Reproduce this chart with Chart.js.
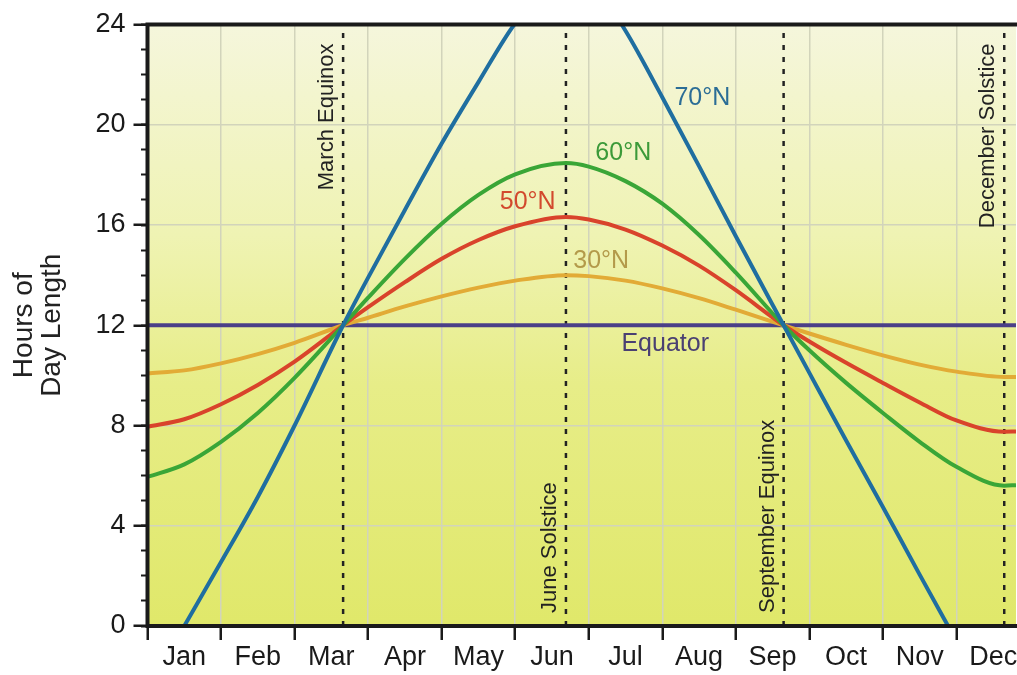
<!DOCTYPE html>
<html>
<head>
<meta charset="utf-8">
<title>Hours of Day Length</title>
<script src="https://cdn.jsdelivr.net/npm/chart.js@4.4.1/dist/chart.umd.min.js"></script>
<style>
	html, body { margin: 0; padding: 0; background: #fff; overflow: hidden; }
	#wrap { width: 1017px; height: 675px; }
</style>
</head>
<body>
<div id="wrap"><canvas id="dayChart" width="1017" height="675"></canvas></div>
<script>
const monthNames = ['Jan', 'Feb', 'Mar', 'Apr', 'May', 'Jun', 'Jul', 'Aug', 'Sep', 'Oct', 'Nov', 'Dec']

// position in the year, months counted from 1 Jan
const monthPos = [0, 0.5, 1, 1.5, 2, 2.66, 3, 3.5, 4, 4.5, 5, 5.69, 6, 6.5, 7, 7.5, 8, 8.65, 9, 9.5, 10, 10.5, 11, 11.65, 11.81]

// hours of daylight
const hoursEquator = [12, 12, 12, 12, 12, 12, 12, 12, 12, 12, 12, 12, 12, 12, 12, 12, 12, 12, 12, 12, 12, 12, 12, 12, 12]
const hours30N = [10.08, 10.2, 10.48, 10.85, 11.3, 12, 12.3, 12.75, 13.15, 13.5, 13.78, 14.0, 13.96, 13.78, 13.47, 13.08, 12.62, 12.0, 11.67, 11.22, 10.8, 10.43, 10.15, 9.94, 9.94]
const hours50N = [7.95, 8.25, 8.85, 9.62, 10.55, 12, 12.72, 13.72, 14.65, 15.4, 15.95, 16.32, 16.22, 15.82, 15.18, 14.38, 13.4, 12.0, 11.35, 10.5, 9.7, 8.92, 8.2, 7.75, 7.76]
const hours60N = [5.95, 6.45, 7.35, 8.5, 9.9, 12, 13.1, 14.65, 16.05, 17.2, 18.02, 18.47, 18.33, 17.75, 16.85, 15.6, 14.1, 12.0, 11.0, 9.7, 8.5, 7.35, 6.35, 5.6, 5.62]
const hours70N = [null, 0.0, 2.55, 5.15, 8.0, 12, 13.9, 16.6, 19.25, 21.7, 24.05, 26.2, 25.9, 23.75, 21.1, 18.35, 15.55, 12.0, 10.1, 7.4, 4.75, 2.05, -0.6, null, null]

// equinoxes and solstices
const eventPos = [2.66, 5.69, 8.65, 11.65]
const eventNames = ['March Equinox', 'June Solstice', 'September Equinox', 'December Solstice']
const eventAtTop = [true, false, false, true]

// names written next to the curves (x in months, y in hours)
const curveLabels = [
	{ text: '70°N', x: 7.545, y: 21.05, color: '#2b6d96' },
	{ text: '60°N', x: 6.47, y: 18.85, color: '#3c9a39' },
	{ text: '50°N', x: 5.17, y: 16.93, color: '#d2492d' },
	{ text: '30°N', x: 6.17, y: 14.54, color: '#b39a4a' },
	{ text: 'Equator', x: 7.04, y: 11.26, color: '#4a4072' }
]

const FONT = "'Liberation Sans', Arial, sans-serif"
const gridColor = '#d2d4bb'
const inkColor = '#1a1a1a'
const clear = 'rgba(0,0,0,0)'

const toPoints = arr => monthPos.map((m, i) => ({ x: m, y: arr[i] }))

const curve = (label, arr, color) => ({
	label,
	data: toPoints(arr),
	borderColor: color,
	borderWidth: 4,
	pointRadius: 0,
	cubicInterpolationMode: 'monotone',
	clip: 0
})

const datasets = [
	curve('70°N', hours70N, '#1f6ea0'),
	curve('60°N', hours60N, '#3aa637'),
	curve('50°N', hours50N, '#d9432b'),
	curve('30°N', hours30N, '#e2ab36'),
	curve('Equator', hoursEquator, '#4b3f88')
]
eventPos.forEach((p, i) => {
	datasets.push({
		label: eventNames[i],
		data: [{ x: p, y: 0 }, { x: p, y: 24 }],
		borderColor: '#222',
		borderWidth: 2.5,
		borderDash: [5, 7],
		pointRadius: 0,
		clip: 0
	})
})

// background gradient behind the plot
const backdrop = {
	id: 'backdrop',
	beforeDraw(chart) {
		const { ctx, chartArea: a } = chart
		const g = ctx.createLinearGradient(0, a.top, 0, a.bottom)
		g.addColorStop(0, '#f5f6dc')
		g.addColorStop(0.35, '#eff3b3')
		g.addColorStop(0.6, '#e7ed88')
		g.addColorStop(1, '#e0e86a')
		ctx.save()
		ctx.fillStyle = g
		ctx.fillRect(a.left, a.top, a.right - a.left, a.bottom - a.top)
		ctx.restore()
	}
}

// frame and text annotations
const annotations = {
	id: 'annotations',
	afterDatasetsDraw(chart) {
		const { ctx, chartArea: a } = chart
		const xs = chart.scales.x
		const ys = chart.scales.y
		ctx.save()

		ctx.font = `25px ${FONT}`
		ctx.textAlign = 'center'
		ctx.textBaseline = 'middle'
		curveLabels.forEach(l => {
			ctx.fillStyle = l.color
			ctx.fillText(l.text, xs.getPixelForValue(l.x), ys.getPixelForValue(l.y))
		})

		ctx.font = `22px ${FONT}`
		ctx.fillStyle = '#222'
		eventPos.forEach((p, i) => {
			const px = xs.getPixelForValue(p) - 16
			ctx.save()
			if (eventAtTop[i]) {
				ctx.translate(px, a.top + 19)
				ctx.rotate(-Math.PI / 2)
				ctx.textAlign = 'right'
			} else {
				ctx.translate(px, a.bottom - 13)
				ctx.rotate(-Math.PI / 2)
				ctx.textAlign = 'left'
			}
			ctx.fillText(eventNames[i], 0, 0)
			ctx.restore()
		})

		ctx.strokeStyle = inkColor
		ctx.lineWidth = 4
		ctx.beginPath()
		ctx.moveTo(a.left, a.bottom + 2)
		ctx.lineTo(a.left, a.top)
		ctx.lineTo(a.right + 2, a.top)
		ctx.moveTo(a.left - 2, a.bottom)
		ctx.lineTo(a.right + 2, a.bottom)
		ctx.stroke()
		ctx.restore()
	}
}

new Chart(document.getElementById('dayChart'), {
	type: 'line',
	data: { datasets },
	options: {
		responsive: false,
		animation: false,
		layout: { padding: { top: 24.5, right: 0, bottom: 0, left: 0 } },
		plugins: {
			legend: { display: false },
			tooltip: { enabled: false }
		},
		scales: {
			x: {
				type: 'linear',
				min: 0,
				max: 11.81,
				afterBuildTicks: scale => {
					const t = []
					for (let i = 0; i < 12; i++) {
						t.push({ value: i })
						t.push({ value: i + 0.5 })
					}
					t.push({ value: 11.81 })
					scale.ticks = t
				},
				afterFit: scale => { scale.height = 49 },
				border: { display: false },
				grid: {
					color: c => c.tick && Number.isInteger(c.tick.value) ? gridColor : clear,
					lineWidth: 1.5,
					tickColor: c => c.tick && Number.isInteger(c.tick.value) ? inkColor : clear,
					tickWidth: 2.5,
					tickLength: 14
				},
				ticks: {
					autoSkip: false,
					maxRotation: 0,
					padding: 1,
					color: inkColor,
					font: { family: FONT, size: 27 },
					callback: v => (v % 1 === 0.5) ? monthNames[v - 0.5] : ''
				}
			},
			y: {
				type: 'linear',
				min: 0,
				max: 24,
				afterFit: scale => { scale.width = 147.5 },
				border: { display: false },
				grid: {
					color: gridColor,
					lineWidth: 1.5,
					tickColor: inkColor,
					tickWidth: 2.5,
					tickLength: 14
				},
				ticks: {
					stepSize: 4,
					padding: 8,
					color: inkColor,
					font: { family: FONT, size: 27 }
				},
				title: {
					display: true,
					text: ['Hours of', 'Day Length'],
					color: '#222',
					padding: { top: 10, bottom: 0 },
					font: { family: FONT, size: 28, lineHeight: 1 }
				}
			},
			yMinor: {
				type: 'linear',
				axis: 'y',
				position: { x: 0 },
				min: 0,
				max: 24,
				border: { display: false },
				grid: {
					drawOnChartArea: false,
					tickColor: inkColor,
					tickWidth: 2,
					tickLength: 7
				},
				ticks: { display: false, stepSize: 1 }
			}
		}
	},
	plugins: [backdrop, annotations]
})
</script>
</body>
</html>
